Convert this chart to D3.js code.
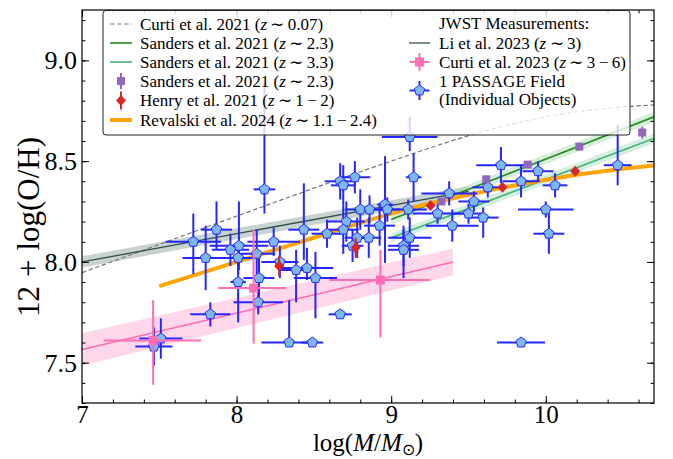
<!DOCTYPE html>
<html><head><meta charset="utf-8">
<script src="https://cdn.jsdelivr.net/npm/d3@7"></script>
<style>
body{margin:0;background:#fff}
svg{display:block}
text{font-family:"Liberation Serif","Times New Roman",serif;fill:#000}
</style>
</head><body>
<svg id="c" width="673" height="459"></svg>
<script>
// ---------------- DATA ----------------
const xTicks=[7,8,9,10];
const yTicks=[7.5,8.0,8.5,9.0];
const xTickLabels=["7","8","9","10"];
const yTickLabels=["7.5","8.0","8.5","9.0"];

// Curti et al. 2021 (z~0.07) relation
const curti21Mass=[7.0,7.5,8.0,8.5,9.0,9.5,10.0,10.5,10.7];
const curti21OH=[7.947,8.087,8.227,8.366,8.500,8.626,8.720,8.769,8.779];

// Li et al. 2023 (z~3)
const liMass=[7.0,9.5];
const liOH=[8.0,8.35];
const liLo=[7.972,8.325];
const liHi=[8.028,8.375];

// Sanders et al. 2021 relations
const sandersMass=[9.0,10.7];
const sanders23OH=[8.21,8.72];
const sanders33OH=[8.12,8.613];
const sandersBand=0.024;

// Revalski et al. 2024
const revMass=[7.5,8.0,8.5,9.0,9.5,10.0,10.5,10.7];
const revOH=[7.88,8.0,8.12,8.24,8.333,8.408,8.462,8.478];

// Curti et al. 2023 relation (z~3-6)
const curti23Mass=[7.0,9.4];
const curti23OH=[7.565,8.0];
const curti23Lo=[7.486,7.933];
const curti23Hi=[7.646,8.067];

// Curti et al. 2023 stacks
const c23PtMass=[7.46,8.11,8.93];
const c23PtMassLo=[0.32,0.23,0.33];
const c23PtMassHi=[0.31,0.21,0.32];
const c23PtOH=[7.61,7.87,7.91];
const c23PtOHLo=[0.22,0.275,0.285];
const c23PtOHHi=[0.20,0.29,0.15];

// Sanders et al. 2021 stacks (z~2.3)
const sPtMass=[9.325,9.615,9.883,10.217,10.624];
const sPtOH=[8.30,8.41,8.483,8.572,8.642];
const sPtOHErr=[0.01,0.01,0.01,0.01,0.03];

// Henry et al. 2021 (z~1-2)
const hPtMass=[8.275,8.77,9.255,9.72,10.19];
const hPtOH=[7.98,8.07,8.28,8.37,8.45];
const hPtOHErr=[0.05,0.05,0.01,0.01,0.01];

// PASSAGE individual objects
const pMass=[8.18,7.87,7.72,7.80,8.015,7.96,8.01,8.13,8.24,8.28,8.385,8.455,8.435,8.01,8.145,8.14,8.51,8.67,8.69,8.765,8.80,8.86,8.96,8.975,8.71,8.69,8.585,8.78,8.855,8.925,8.75,9.12,9.145,9.375,9.11,9.30,9.395,9.535,9.50,9.595,9.625,9.12,9.08,9.08,9.71,9.84,9.95,10.06,10.0,10.02,10.465,7.83,7.51,7.465,8.34,8.49,8.67,9.84];
const pMassErr=[0.07,0.10,0.18,0.15,0.19,0.12,0.11,0.12,0.17,0.12,0.10,0.17,0.10,0.05,0.10,0.16,0.14,0.10,0.08,0.10,0.10,0.10,0.05,0.08,0.12,0.10,0.10,0.08,0.08,0.10,0.07,0.18,0.05,0.18,0.12,0.16,0.17,0.10,0.10,0.10,0.10,0.14,0.10,0.10,0.16,0.12,0.10,0.08,0.18,0.10,0.09,0.13,0.14,0.12,0.18,0.07,0.075,0.155];
const pOH=[8.36,8.16,8.10,8.02,8.08,8.06,8.02,8.04,8.10,8.00,7.96,7.97,8.16,7.90,7.92,7.80,7.92,8.40,8.38,8.42,8.26,8.26,8.285,8.26,8.20,8.16,8.14,8.12,8.12,8.18,8.08,8.62,8.42,8.34,8.26,8.24,8.18,8.30,8.24,8.22,8.37,8.12,8.08,8.06,8.48,8.40,8.45,8.38,8.26,8.14,8.48,7.74,7.62,7.58,7.60,7.60,7.74,7.60];
const pOHLo=[0.12,0.10,0.16,0.16,0.12,0.08,0.08,0.10,0.07,0.08,0.16,0.06,0.15,0.20,0.10,0.06,0.20,0.09,0.10,0.08,0.10,0.07,0.29,0.06,0.10,0.12,0.07,0.10,0.10,0.10,0.08,0.07,0.12,0.06,0.05,0.05,0.08,0.05,0.05,0.10,0.05,0.10,0.10,0.14,0.09,0.08,0.05,0.06,0.04,0.10,0.10,0.06,0.10,0.095,0.0,0.02,0.02,0.0];
const pOHHi=[0.54,0.14,0.14,0.16,0.22,0.08,0.08,0.12,0.07,0.08,0.10,0.10,0.23,0.10,0.12,0.06,0.13,0.09,0.10,0.08,0.10,0.07,0.24,0.06,0.10,0.12,0.07,0.10,0.10,0.10,0.08,0.10,0.12,0.06,0.05,0.05,0.08,0.05,0.05,0.05,0.05,0.10,0.10,0.10,0.09,0.08,0.05,0.06,0.04,0.10,0.20,0.06,0.10,0.095,0.21,0.02,0.02,0.0];

// ---------------- CHART ----------------
const svg=d3.select("#c");
const L=82,R=654,T=10,B=403;
const x=d3.scaleLinear().domain([7,10.7]).range([L,R]);
const y=d3.scaleLinear().domain([7.3,9.25]).range([B,T]);

svg.append("defs").append("clipPath").attr("id","clip")
  .append("rect").attr("x",L).attr("y",T).attr("width",R-L).attr("height",B-T);
const g=svg.append("g").attr("clip-path","url(#clip)");

const line=d3.line().x(d=>x(d[0])).y(d=>y(d[1]));
const smooth=d3.line().x(d=>x(d[0])).y(d=>y(d[1])).curve(d3.curveMonotoneX);
const area=d3.area().x(d=>x(d[0])).y0(d=>y(d[1])).y1(d=>y(d[2]));
const zip2=(a,b)=>a.map((v,i)=>[v,b[i]]);
const zip3=(a,b,c)=>a.map((v,i)=>[v,b[i],c[i]]);

// bands
g.append("path").datum(zip3(curti23Mass,curti23Lo,curti23Hi)).attr("d",area).attr("fill","#ffb6d9").attr("opacity",0.55);
g.append("path").datum(zip3(liMass,liLo,liHi)).attr("d",area).attr("fill","#a3b5b1").attr("opacity",0.6);
g.append("path").datum(zip3(sandersMass,sanders23OH.map(v=>v-sandersBand),sanders23OH.map(v=>v+sandersBand))).attr("d",area).attr("fill","#a6dcae").attr("opacity",0.45);
g.append("path").datum(zip3(sandersMass,sanders33OH.map(v=>v-sandersBand),sanders33OH.map(v=>v+sandersBand))).attr("d",area).attr("fill","#a6dcbc").attr("opacity",0.45);

// lines
g.append("path").datum(zip2(curti21Mass,curti21OH)).attr("d",smooth).attr("fill","none").attr("stroke","#777").attr("stroke-width",1.2).attr("stroke-dasharray","4.5,2.5");
g.append("path").datum(zip2(liMass,liOH)).attr("d",line).attr("fill","none").attr("stroke","#2f4f4f").attr("stroke-width",1.3);
g.append("path").datum(zip2(sandersMass,sanders23OH)).attr("d",line).attr("fill","none").attr("stroke","#228b22").attr("stroke-width",1.6);
g.append("path").datum(zip2(sandersMass,sanders33OH)).attr("d",line).attr("fill","none").attr("stroke","#3cb371").attr("stroke-width",1.6);
g.append("path").datum(zip2(curti23Mass,curti23OH)).attr("d",line).attr("fill","none").attr("stroke","#ff69b4").attr("stroke-width",1.6);
g.append("path").datum(zip2(revMass,revOH)).attr("d",smooth).attr("fill","none").attr("stroke","#ffa500").attr("stroke-width",4);

// marker helpers
function pentagon(r){const p=[];for(let i=0;i<5;i++){const a=-Math.PI/2+i*2*Math.PI/5;p.push([r*Math.cos(a),r*Math.sin(a)]);}return "M"+p.map(q=>q.join(",")).join("L")+"Z";}
function errbar(sel,cx,cy,xl,xh,yl,yh,col,w){
  if(xl!==null) sel.append("line").attr("x1",xl).attr("x2",xh).attr("y1",cy).attr("y2",cy).attr("stroke",col).attr("stroke-width",w);
  if(yl!==null) sel.append("line").attr("x1",cx).attr("x2",cx).attr("y1",yl).attr("y2",yh).attr("stroke",col).attr("stroke-width",w);
}

// PASSAGE errorbars
const pg=g.append("g");
pMass.forEach((m,i)=>{
  errbar(pg,x(m),y(pOH[i]),x(m-pMassErr[i]),x(m+pMassErr[i]),y(pOH[i]-pOHLo[i]),y(pOH[i]+pOHHi[i]),"#2626ff",2);
});
// Curti 2023 points
c23PtMass.forEach((m,i)=>{
  errbar(g,x(m),y(c23PtOH[i]),x(m-c23PtMassLo[i]),x(m+c23PtMassHi[i]),y(c23PtOH[i]-c23PtOHLo[i]),y(c23PtOH[i]+c23PtOHHi[i]),"#ff6eb4",2);
  g.append("rect").attr("x",x(m)-4.5).attr("y",y(c23PtOH[i])-4.5).attr("width",9).attr("height",9).attr("fill","#ff6eb4");
});
// Sanders stacks
sPtMass.forEach((m,i)=>{
  errbar(g,x(m),y(sPtOH[i]),null,null,y(sPtOH[i]-sPtOHErr[i]),y(sPtOH[i]+sPtOHErr[i]),"#9467bd",2);
  g.append("rect").attr("x",x(m)-4).attr("y",y(sPtOH[i])-4).attr("width",8).attr("height",8).attr("fill","#9467bd");
});
// Henry
hPtMass.forEach((m,i)=>{
  errbar(g,x(m),y(hPtOH[i]),null,null,y(hPtOH[i]-hPtOHErr[i]),y(hPtOH[i]+hPtOHErr[i]),"#d62728",2);
  g.append("path").attr("transform",`translate(${x(m)},${y(hPtOH[i])})`).attr("d","M0,-5.5L5,0L0,5.5L-5,0Z").attr("fill","#d62728");
});
// PASSAGE markers on top
pMass.forEach((m,i)=>{
  pg.append("path").attr("transform",`translate(${x(m)},${y(pOH[i])})`).attr("d",pentagon(5.5)).attr("fill","#7cb8f0").attr("stroke","#2a2aff").attr("stroke-width",1);
});

// ---------------- AXES ----------------
const ax=svg.append("g");
function styleAxis(s){s.selectAll(".domain").remove();s.selectAll("line").attr("stroke","#000").attr("stroke-width",1);}
const xMinor=d3.range(7,10.71,0.2).map(v=>+v.toFixed(2));
const yMinor=d3.range(7.3,9.251,0.1).map(v=>+v.toFixed(2));
ax.append("g").attr("transform",`translate(0,${B})`).call(d3.axisBottom(x).tickValues(xMinor).tickSize(-3.5).tickFormat("")).call(styleAxis);
ax.append("g").attr("transform",`translate(0,${T})`).call(d3.axisTop(x).tickValues(xMinor).tickSize(-3.5).tickFormat("")).call(styleAxis);
ax.append("g").attr("transform",`translate(${L},0)`).call(d3.axisLeft(y).tickValues(yMinor).tickSize(-3.5).tickFormat("")).call(styleAxis);
ax.append("g").attr("transform",`translate(${R},0)`).call(d3.axisRight(y).tickValues(yMinor).tickSize(-3.5).tickFormat("")).call(styleAxis);

const xb=ax.append("g").attr("transform",`translate(0,${B})`).call(d3.axisBottom(x).tickValues(xTicks).tickSize(-7).tickPadding(3).tickFormat((d,i)=>xTickLabels[i])).call(styleAxis);
xb.selectAll("text").attr("font-size",25).attr("font-family","Liberation Serif").attr("dy","0.68em");
ax.append("g").attr("transform",`translate(0,${T})`).call(d3.axisTop(x).tickValues(xTicks).tickSize(-7).tickFormat("")).call(styleAxis);
const yl=ax.append("g").attr("transform",`translate(${L},0)`).call(d3.axisLeft(y).tickValues(yTicks).tickSize(-7).tickPadding(5).tickFormat((d,i)=>yTickLabels[i])).call(styleAxis);
yl.selectAll("text").attr("font-size",26).attr("font-family","Liberation Serif");
ax.append("g").attr("transform",`translate(${R},0)`).call(d3.axisRight(y).tickValues(yTicks).tickSize(-7).tickFormat("")).call(styleAxis);

ax.append("rect").attr("x",L).attr("y",T).attr("width",R-L).attr("height",B-T).attr("fill","none").attr("stroke","#000").attr("stroke-width",1.2);

// axis labels
const xl=svg.append("text").attr("x",(L+R)/2).attr("y",451).attr("text-anchor","middle").attr("font-size",25);
xl.append("tspan").text("log(");
xl.append("tspan").attr("font-style","italic").text("M");
xl.append("tspan").text("/");
xl.append("tspan").attr("font-style","italic").text("M");
xl.append("tspan").attr("font-size",16).attr("dy",3.5).text("⊙");
xl.append("tspan").attr("dy",-3.5).text(")");
const ylab=svg.append("text").attr("transform","translate(39,227) rotate(-90)").attr("text-anchor","middle").attr("font-size",31);
ylab.append("tspan").text("12");
ylab.append("tspan").attr("dx",9).text("+");
ylab.append("tspan").attr("dx",9).text("log(O/H)");
</script>
<script>
// ---------------- LEGEND ----------------
const lg=d3.select("#c").append("g");
lg.append("rect").attr("x",103).attr("y",10.5).attr("width",527).attr("height",124.5).attr("rx",3).attr("fill","#fff").attr("fill-opacity",0.8).attr("stroke","#222").attr("stroke-width",1);
const fs=17;
function label(xp,yp,parts){
  const t=lg.append("text").attr("x",xp).attr("y",yp).attr("dy","0.35em").attr("font-size",fs);
  parts.forEach(p=>{const s=t.append("tspan").text(p[0]);if(p[1])s.attr("font-style","italic");});
}
const sim="\u2009∼\u2009";
const lx1=110,lx2=132,tx=140;
const rows=[24,43,62,81,100.5,120];
lg.append("line").attr("x1",lx1).attr("x2",lx2).attr("y1",rows[0]).attr("y2",rows[0]).attr("stroke","#777").attr("stroke-width",1.2).attr("stroke-dasharray","4.5,2.5");
label(tx,rows[0],[["Curti et al. 2021 ("],["z",1],[sim+"0.07)"]]);
lg.append("line").attr("x1",lx1).attr("x2",lx2).attr("y1",rows[1]).attr("y2",rows[1]).attr("stroke","#228b22").attr("stroke-width",1.6);
label(tx,rows[1],[["Sanders et al. 2021 ("],["z",1],[sim+"2.3)"]]);
lg.append("line").attr("x1",lx1).attr("x2",lx2).attr("y1",rows[2]).attr("y2",rows[2]).attr("stroke","#3cb371").attr("stroke-width",1.6);
label(tx,rows[2],[["Sanders et al. 2021 ("],["z",1],[sim+"3.3)"]]);
lg.append("line").attr("x1",121).attr("x2",121).attr("y1",rows[3]-8).attr("y2",rows[3]+8).attr("stroke","#9467bd").attr("stroke-width",2);
lg.append("rect").attr("x",117).attr("y",rows[3]-4).attr("width",8).attr("height",8).attr("fill","#9467bd");
label(tx,rows[3],[["Sanders et al. 2021 ("],["z",1],[sim+"2.3)"]]);
lg.append("line").attr("x1",121).attr("x2",121).attr("y1",rows[4]-9).attr("y2",rows[4]+9).attr("stroke","#d62728").attr("stroke-width",2);
lg.append("path").attr("transform",`translate(121,${rows[4]})`).attr("d","M0,-5.5L5,0L0,5.5L-5,0Z").attr("fill","#d62728");
label(tx,rows[4],[["Henry et al. 2021 ("],["z",1],[sim+"1\u2009−\u20092)"]]);
lg.append("line").attr("x1",lx1).attr("x2",lx2).attr("y1",rows[5]).attr("y2",rows[5]).attr("stroke","#ffa500").attr("stroke-width",4);
label(tx,rows[5],[["Revalski et al. 2024 ("],["z",1],[sim+"1.1\u2009−\u20092.4)"]]);

const rx1=409,rx2=430,rtx=439,rc=419.5;
label(rtx,23.5,[["JWST Measurements:"]]);
lg.append("line").attr("x1",rx1).attr("x2",rx2).attr("y1",43).attr("y2",43).attr("stroke","#2f4f4f").attr("stroke-width",1.3);
label(rtx,43,[["Li et al. 2023 ("],["z",1],[sim+"3)"]]);
lg.append("line").attr("x1",rc-10).attr("x2",rc+10).attr("y1",62).attr("y2",62).attr("stroke","#ff6eb4").attr("stroke-width",2);
lg.append("line").attr("x1",rc).attr("x2",rc).attr("y1",53).attr("y2",71).attr("stroke","#ff6eb4").attr("stroke-width",2);
lg.append("rect").attr("x",rc-4.5).attr("y",57.5).attr("width",9).attr("height",9).attr("fill","#ff6eb4");
label(rtx,62,[["Curti et al. 2023 ("],["z",1],[sim+"3\u2009−\u20096)"]]);
lg.append("line").attr("x1",rc-10).attr("x2",rc+10).attr("y1",90.5).attr("y2",90.5).attr("stroke","#2626ff").attr("stroke-width",2);
lg.append("line").attr("x1",rc).attr("x2",rc).attr("y1",81).attr("y2",100).attr("stroke","#2626ff").attr("stroke-width",2);
lg.append("path").attr("transform",`translate(${rc},90.5)`).attr("d","M0,-5.5L5.23,-1.7L3.23,4.45L-3.23,4.45L-5.23,-1.7Z").attr("fill","#7cb8f0").attr("stroke","#2a2aff").attr("stroke-width",1);
label(rtx,81,[["1 PASSAGE Field"]]);
label(rtx,99.5,[["(Individual Objects)"]]);
</script>
</body></html>
